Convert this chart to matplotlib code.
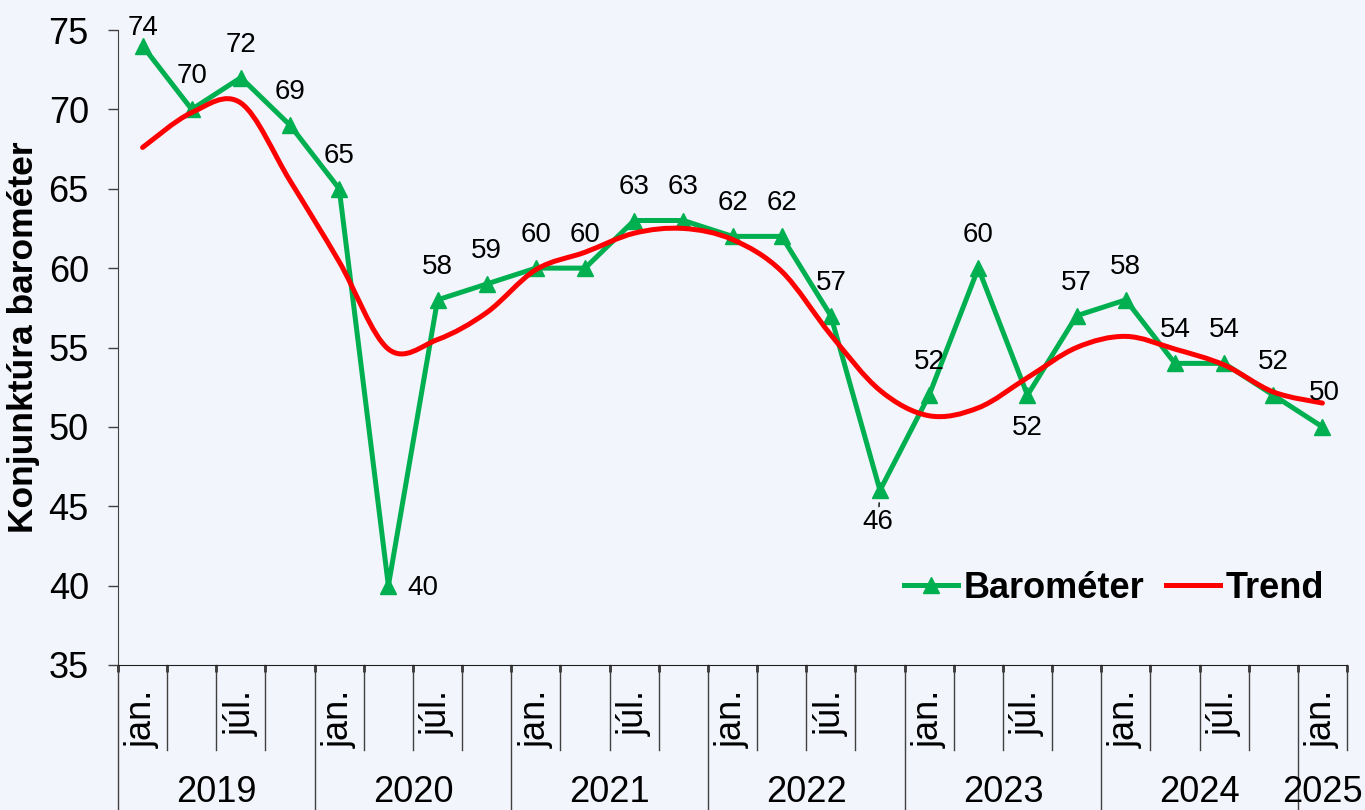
import numpy as np
import matplotlib.pyplot as plt
from matplotlib.path import Path
from matplotlib.patches import PathPatch
from matplotlib.lines import Line2D

plt.rcParams['font.family'] = ['Liberation Sans', 'DejaVu Sans']

years = ['2019', '2020', '2021', '2022', '2023', '2024', '2025']
quarter_labels = ['jan.', '', 'júl.', ''] * 6 + ['jan.']
barometer = [74, 70, 72, 69, 65, 40, 58, 59, 60, 60, 63, 63, 62,
             62, 57, 46, 52, 60, 52, 57, 58, 54, 54, 52, 50]
trend = [67.6, 69.8, 70.4, 65.5, 60.4, 54.9, 55.5, 57.2, 59.9, 61.0, 62.2, 62.5, 61.8,
         59.8, 55.8, 52.3, 50.7, 51.2, 53.1, 55.0, 55.7, 54.9, 53.9, 52.2, 51.5]

# label offsets in pixels (default: above the point)
label_offsets = {0: (0, 18), 5: (34, -2), 15: (-2, -32), 18: (0, -33), 24: (2, 34)}

bg = '#F2F5FC'
green = '#00B050'
red = '#FF0000'

fig = plt.figure(figsize=(13.65, 8.10), dpi=100, facecolor=bg)
ax = fig.add_axes([118 / 1365, 1 - 665 / 810, (1347 - 118) / 1365, 635 / 810])
ax.set_facecolor(bg)

x = np.arange(len(barometer))

ax.plot(x, barometer, color=green, lw=3.6, marker='^', ms=11, clip_on=False, zorder=3)

# smoothed trend line (Catmull-Rom style bezier through the trend values)
pts = np.column_stack([x, trend]).astype(float)
verts = [pts[0]]
codes = [Path.MOVETO]
for i in range(len(pts) - 1):
    p0 = pts[max(i - 1, 0)]
    p1 = pts[i]
    p2 = pts[i + 1]
    p3 = pts[min(i + 2, len(pts) - 1)]
    verts += [p1 + (p2 - p0) / 6, p2 - (p3 - p1) / 6, p2]
    codes += [Path.CURVE4] * 3
ax.add_patch(PathPatch(Path(verts, codes), fill=False, edgecolor=red, lw=3.6,
                       capstyle='round', zorder=4, clip_on=False))

for i, v in enumerate(barometer):
    dx, dy = label_offsets.get(i, (0, 33))
    if i == 15:
        ax.annotate(str(v), (i, v), xytext=(dx, dy), textcoords='offset pixels',
                    ha='center', va='center', fontsize=20, zorder=5,
                    arrowprops=dict(arrowstyle='-', color='black', lw=1, shrinkA=0, shrinkB=9))
    else:
        ax.annotate(str(v), (i, v), xytext=(dx, dy), textcoords='offset pixels',
                    ha='center', va='center', fontsize=20, zorder=5)

ax.set_xlim(-0.5, len(barometer) - 0.5)
ax.set_ylim(35, 75)
ax.set_yticks(np.arange(35, 76, 5))
ax.tick_params(axis='y', labelsize=26, length=7, width=1, color='#404040', pad=14)
ax.set_xticks([])
ax.set_xticks(np.arange(-0.5, len(barometer)), minor=True)
ax.tick_params(axis='x', which='minor', length=5, width=2, color='#303030', direction='out', labelbottom=False)

for s in ['top', 'right']:
    ax.spines[s].set_visible(False)
ax.spines['left'].set_color('#404040')
ax.spines['bottom'].set_color('#202020')

tr = ax.get_xaxis_transform()
for i in range(len(barometer) + 1):
    xb = i - 0.5
    bottom = -0.228 if (i % 4 == 0 and i < len(barometer)) else -0.134
    ax.plot([xb, xb], [0, bottom], transform=tr, color='#404040', lw=1, clip_on=False)

for i, lab in enumerate(quarter_labels):
    if lab:
        ax.text(i, -0.039, lab, rotation=90, ha='center', va='top', transform=tr, fontsize=26)

for k, yr in enumerate(years):
    c = 4 * k + 1.5 if k < 6 else 4 * k
    ax.text(c, -0.2, yr, ha='center', va='center', transform=tr, fontsize=26)

fig.text(24 / 1365, 1 - 337 / 810, 'Konjunktúra barométer', rotation=90, ha='center', va='center',
         fontsize=25.5, fontweight='bold')

handles = [Line2D([], [], color=green, lw=3.6, marker='^', ms=11),
           Line2D([], [], color=red, lw=3.6)]
ax.legend(handles, ['Barométer', 'Trend'], loc='center right', bbox_to_anchor=(0.993, 0.121),
          ncol=2, frameon=False, prop=dict(weight='bold', size=26), handlelength=1.5,
          handletextpad=0.15, columnspacing=0.6, borderaxespad=0)

fig.savefig('out.png', dpi=100, facecolor=bg)
